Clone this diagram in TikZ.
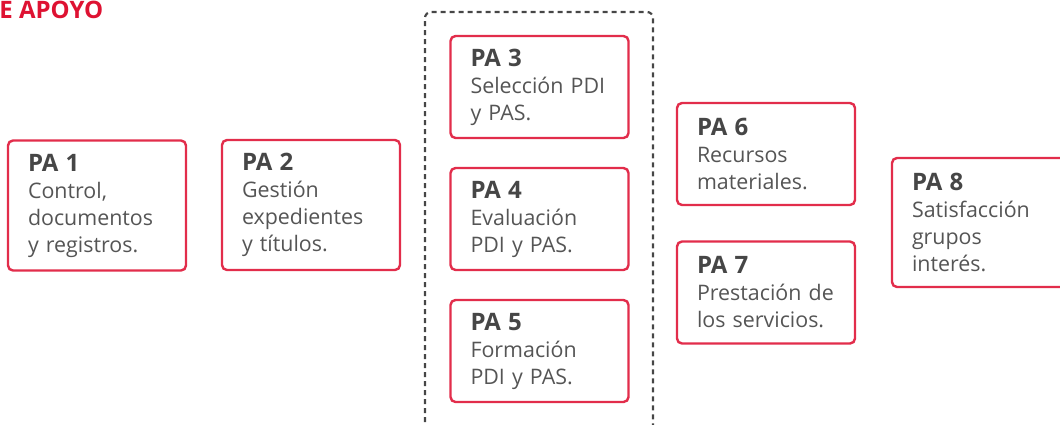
\documentclass[tikz,border=0pt]{standalone}
\usepackage{fontspec}
\setmainfont{Open Sans}
\usetikzlibrary{calc}
\definecolor{paRed}{RGB}{226,45,75}
\definecolor{titleRed}{RGB}{222,18,50}
\definecolor{paGrey}{RGB}{85,85,85}
\definecolor{paDark}{RGB}{70,70,70}
\tikzset{
	pabox/.style={draw=paRed, line width=1.2pt, rounded corners=2.5pt, fill=white,
		text width=69pt, inner xsep=10pt, inner ysep=0pt, align=left,
		text=paGrey, font=\fontsize{10.7}{13.5}\selectfont},
	groupbox/.style={draw=paDark, line width=1.1pt, rounded corners=3pt,
		dash pattern=on 2.5pt off 2pt}
}
\newcommand{\patitle}[1]{{\fontsize{12}{13.5}\selectfont\bfseries\color{paDark}#1}}

\begin{document}
\begin{tikzpicture}[x=0.5pt, y=-0.5pt]
		%%%%% START %%%%%
		
		\useasboundingbox (0, 0) rectangle (1060, 424);
		\clip (0, 0) rectangle (1060, 424);
		
		\node[anchor=base west, inner sep=0pt, text=titleRed, font=\fontsize{12}{14}\selectfont\bfseries] (heading) at (-1, 18) {E APOYO};
		
		% group PA 3 - PA 5
		\draw[groupbox] (425, 440) -- (425, 12) -- (653, 12) -- (653, 440);
		
		\node[pabox, minimum height=65pt] (pa1) at (97, 205.5) {\patitle{PA 1}\\Control,\\documentos\\y~registros.};
		\node[pabox, minimum height=65pt] (pa2) at (311, 205) {\patitle{PA 2}\\Gestión\\expedientes\\y~títulos.};
		
		\node[pabox, minimum height=51pt] (pa3) at (539.5, 87) {\patitle{PA 3}\\Selección~PDI\\y~PAS.};
		\node[pabox, minimum height=51pt] (pa4) at (539.5, 219) {\patitle{PA 4}\\Evaluación\\PDI~y~PAS.};
		\node[pabox, minimum height=51pt] (pa5) at (539.5, 351) {\patitle{PA 5}\\Formación\\PDI~y~PAS.};
		
		\node[pabox, minimum height=51pt] (pa6) at (766, 154) {\patitle{PA 6}\\Recursos\\materiales.};
		\node[pabox, minimum height=51pt] (pa7) at (766, 292.5) {\patitle{PA 7}\\Prestación~de\\los~servicios.};
		
		\node[pabox, minimum height=64.5pt] (pa8) at (981, 222.5) {\patitle{PA 8}\\Satisfacción\\grupos\\interés.};
		
		%%%%% END %%%%%
	\end{tikzpicture}
\end{document}
